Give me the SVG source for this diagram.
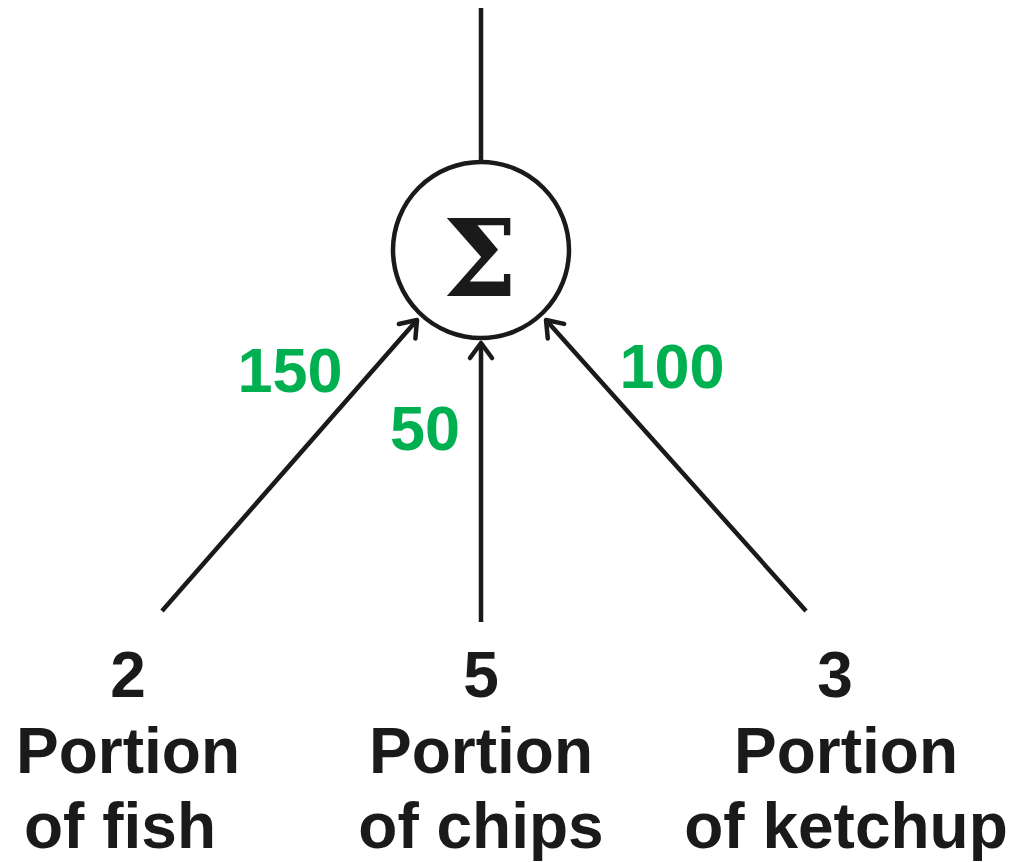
<svg xmlns="http://www.w3.org/2000/svg" width="1024" height="862" viewBox="0 0 1024 862">
<style>
.ln{stroke:#1a1a1a;stroke-width:4.5;fill:none}
.lbl{font-family:"Liberation Sans",Arial,sans-serif;font-weight:bold;font-size:64px;fill:#1a1a1a;text-anchor:middle}
.w{font-family:"Liberation Sans",Arial,sans-serif;font-weight:bold;font-size:63px;fill:#00b050;text-anchor:middle}
</style>
<defs>
<marker id="arr" markerUnits="userSpaceOnUse" markerWidth="40" markerHeight="40" viewBox="-20 -20 40 40" refX="0" refY="0" orient="auto">
<path d="M-15,-11 L0,0 L-15,11" stroke="#1a1a1a" stroke-width="4.5" fill="none" stroke-linecap="round" stroke-linejoin="round"/>
</marker>
</defs>
<g id="sum">
<circle cx="481" cy="250" r="88" class="ln"/>
<text x="480" y="296" font-family="'DejaVu Serif','Liberation Serif',serif" font-weight="bold" font-size="106" fill="#1a1a1a" text-anchor="middle">Σ</text>
</g>
<g id="connectors">
<line x1="481" y1="8" x2="481" y2="162" class="ln"/>
<line x1="162" y1="611" x2="417" y2="320" class="ln" marker-end="url(#arr)"/>
<line x1="481" y1="622" x2="481" y2="343" class="ln" marker-end="url(#arr)"/>
<line x1="806" y1="611" x2="546" y2="320" class="ln" marker-end="url(#arr)"/>
<text class="w" x="290" y="392">150</text>
<text class="w" x="425" y="450">50</text>
<text class="w" x="672" y="388">100</text>
</g>
<g id="fish">
<text class="lbl" x="128" y="697">2</text>
<text class="lbl" x="128" y="773">Portion</text>
<text class="lbl" x="120" y="848">of fish</text>
</g>
<g id="chips">
<text class="lbl" x="481" y="697">5</text>
<text class="lbl" x="481" y="773">Portion</text>
<text class="lbl" x="481" y="848">of chips</text>
</g>
<g id="ketchup">
<text class="lbl" x="835" y="697">3</text>
<text class="lbl" x="846" y="773">Portion</text>
<text class="lbl" x="846" y="848">of ketchup</text>
</g>
</svg>
